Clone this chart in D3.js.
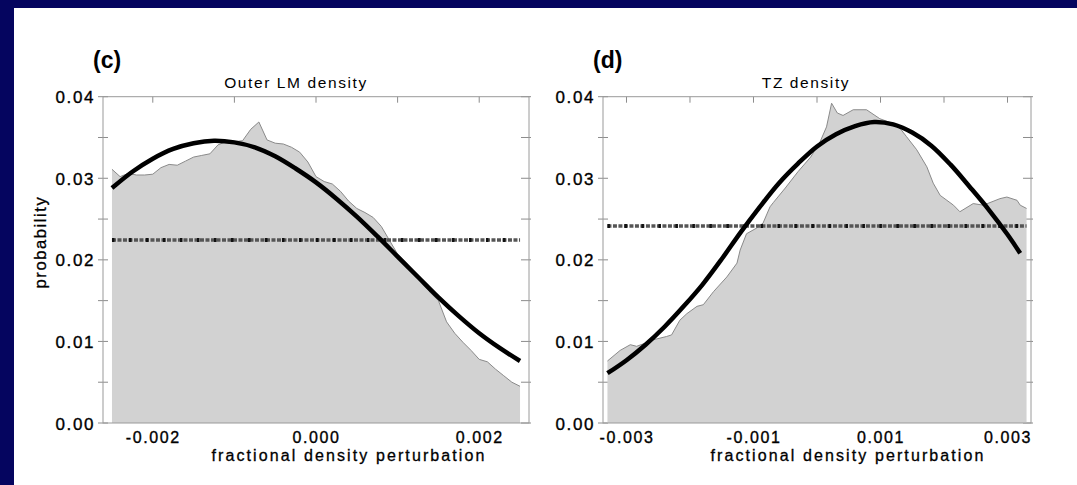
<!DOCTYPE html>
<html><head><meta charset="utf-8">
<script src="https://cdn.jsdelivr.net/npm/d3@7"></script>
<style>
html,body{margin:0;padding:0;background:#05055f;}
svg{display:block;}
text{font-family:"Liberation Sans",Arial,Helvetica,sans-serif;fill:#000;}
</style></head>
<body>
<svg id="chart" width="1077" height="485"></svg>
<script>
// ---------- data ----------
const panelLabels = ["(c)", "(d)"];
const panelTitles = ["Outer LM density", "TZ density"];
const xAxisTitle = "fractional density perturbation";
const yAxisTitle = "probability";

const yTicksLabeled = [0, 0.01, 0.02, 0.03, 0.04];
const yTicksMinor = [0.005, 0.015, 0.025, 0.035];

// panel (c)
const cXDomain = [-0.00261, 0.00261];
const cXTicksLabeled = [-0.002, 0.000, 0.002];
const cXTicksAll = [-0.002, -0.001, 0, 0.001, 0.002];
const cHistX = [-0.0025,-0.0024,-0.0023,-0.0022,-0.0021,-0.0020,-0.0019,-0.0018,-0.0017,-0.0016,-0.0015,-0.0014,-0.0013,-0.0012,-0.0011,-0.0010,-0.0009,-0.0008,-0.0007,-0.0006,-0.0005,-0.0004,-0.0003,-0.0002,-0.0001,0.0000,0.0001,0.0002,0.0003,0.0004,0.0005,0.0006,0.0007,0.0008,0.0009,0.0010,0.0011,0.0012,0.0013,0.0014,0.0015,0.0016,0.0017,0.0018,0.0019,0.0020,0.0021,0.0022,0.0023,0.0024,0.0025];
const cHistY = [0.0311,0.0302,0.0306,0.0304,0.0304,0.0305,0.0313,0.0317,0.0316,0.0321,0.0326,0.0328,0.0330,0.0341,0.0345,0.0345,0.0346,0.0360,0.0369,0.0347,0.0343,0.0342,0.0338,0.0332,0.0320,0.0302,0.0296,0.0293,0.0284,0.0272,0.0263,0.0258,0.0252,0.0241,0.0224,0.0207,0.0197,0.0186,0.0172,0.0160,0.0150,0.0124,0.0110,0.0099,0.0089,0.0078,0.0075,0.0066,0.0058,0.0050,0.0045];
const cFitX = [-0.0025,-0.00225,-0.002,-0.00175,-0.0015,-0.00125,-0.001,-0.00075,-0.0005,-0.00025,0,0.00025,0.0005,0.00075,0.001,0.00125,0.0015,0.00175,0.002,0.00225,0.0025];
const cFitY = [0.0288,0.0308,0.0324,0.0336,0.0343,0.0346,0.0344,0.0338,0.0327,0.0312,0.0295,0.0275,0.0253,0.0229,0.0204,0.0179,0.0154,0.0131,0.0110,0.0092,0.0076];
const cLevel = 0.02243;

// panel (d)
const dXDomain = [-0.00337, 0.00337];
const dXTicksLabeled = [-0.003, -0.001, 0.001, 0.003];
const dXTicksAll = [-0.003, -0.002, -0.001, 0, 0.001, 0.002, 0.003];
const dHistX = [-0.0033,-0.0031,-0.00294,-0.00284,-0.0027,-0.00258,-0.00237,-0.00229,-0.00216,-0.00205,-0.00189,-0.00179,-0.00163,-0.00142,-0.00126,-0.00121,-0.00111,-0.00095,-0.00085,-0.00074,-0.00069,-0.0005,-0.0003,-0.0001,0.00005,0.00015,0.00023,0.00032,0.00041,0.00057,0.00078,0.00099,0.0012,0.00131,0.00141,0.00157,0.00173,0.00183,0.00194,0.00215,0.00225,0.00246,0.00262,0.00288,0.00299,0.00315,0.0032,0.0033];
const dHistY = [0.0076,0.0089,0.0096,0.0094,0.0098,0.0102,0.0106,0.0108,0.0126,0.0134,0.0143,0.0145,0.0161,0.0179,0.0196,0.0212,0.0232,0.0239,0.0245,0.0265,0.0270,0.0288,0.0308,0.0326,0.0345,0.0363,0.0392,0.0380,0.0377,0.0384,0.0384,0.0373,0.0367,0.0361,0.0351,0.0335,0.0314,0.0294,0.0279,0.0267,0.0259,0.0269,0.0267,0.0275,0.0277,0.0273,0.0267,0.0263];
const dFitX = [-0.0033,-0.003,-0.0027,-0.0024,-0.0021,-0.0018,-0.0015,-0.0012,-0.0009,-0.0006,-0.0003,0,0.0003,0.0006,0.0009,0.0012,0.0015,0.0018,0.0021,0.0024,0.0027,0.003,0.0032];
const dFitY = [0.0061,0.0077,0.0096,0.0118,0.0143,0.0170,0.0201,0.0234,0.0265,0.0294,0.0318,0.0339,0.0354,0.0364,0.0369,0.0366,0.0356,0.0340,0.0317,0.0290,0.0262,0.0231,0.0208];
const dLevel = 0.02414;

// ---------- layout ----------
const W = 1077, H = 485;
const svg = d3.select("#chart");
svg.append("rect").attr("x",0).attr("y",0).attr("width",W).attr("height",H).attr("fill","#05055f");
svg.append("rect").attr("x",14).attr("y",8).attr("width",W-14).attr("height",H-8).attr("fill","#ffffff");

const yTop = 96.7, yBot = 423;
const y = d3.scaleLinear().domain([0, 0.04]).range([yBot, yTop]);

const panels = [
  {label: panelLabels[0], title: panelTitles[0], x0: 103, x1: 529, dom: cXDomain,
   ticksLab: cXTicksLabeled, ticksAll: cXTicksAll, hx: cHistX, hy: cHistY, fx: cFitX, fy: cFitY, level: cLevel,
   titleDx: -20, xTitleDx: 33, fmt: d3.format(".3f")},
  {label: panelLabels[1], title: panelTitles[1], x0: 603, x1: 1031, dom: dXDomain,
   ticksLab: dXTicksLabeled, ticksAll: dXTicksAll, hx: dHistX, hy: dHistY, fx: dFitX, fy: dFitY, level: dLevel,
   titleDx: -11, xTitleDx: 31, fmt: d3.format(".3f")}
];

const LS = "1.6px";
const FONT = '"Liberation Sans",Arial,sans-serif';
panels.forEach((p, i) => {
  const x = d3.scaleLinear().domain(p.dom).range([p.x0, p.x1]);
  const g = svg.append("g");
  const hist = p.hx.map((v, k) => [v, p.hy[k]]);
  const fit = p.fx.map((v, k) => [v, p.fy[k]]);

  // tick marks (frame)
  const tickCol = "#8c8c8c";
  const allY = yTicksLabeled.concat(yTicksMinor);
  allY.forEach(t => {
    g.append("line").attr("x1", p.x0 - 5).attr("x2", p.x0 + 5).attr("y1", y(t)).attr("y2", y(t))
      .attr("stroke", tickCol).attr("stroke-width", 1);
    g.append("line").attr("x1", p.x1 - 8).attr("x2", p.x1 + 2).attr("y1", y(t)).attr("y2", y(t))
      .attr("stroke", tickCol).attr("stroke-width", 1);
  });
  p.ticksAll.forEach(t => {
    g.append("line").attr("x1", x(t)).attr("x2", x(t)).attr("y1", yTop).attr("y2", yTop + 6)
      .attr("stroke", tickCol).attr("stroke-width", 1);
    g.append("line").attr("x1", x(t)).attr("x2", x(t)).attr("y1", yBot).attr("y2", yBot - 6)
      .attr("stroke", tickCol).attr("stroke-width", 1);
  });

  // histogram fill
  g.append("path").datum(hist)
    .attr("d", d3.area().x(d => x(d[0])).y0(y(0)).y1(d => y(d[1])))
    .attr("fill", "#d2d2d2");
  g.append("path").datum(hist)
    .attr("d", d3.line().x(d => x(d[0])).y(d => y(d[1])))
    .attr("fill", "none").attr("stroke", "#8a8a8a").attr("stroke-width", 1);

  // frame
  g.append("rect").attr("x", p.x0).attr("y", yTop).attr("width", p.x1 - p.x0).attr("height", yBot - yTop)
    .attr("fill", "none").attr("stroke", "#9a9a9a").attr("stroke-width", 1);

  // horizontal reference level
  const hx0 = x(p.hx[0]), hx1 = x(p.hx[p.hx.length - 1]);
  g.append("line").attr("x1", hx0).attr("x2", hx1).attr("y1", y(p.level)).attr("y2", y(p.level))
    .attr("stroke", "#555").attr("stroke-width", 3.5).attr("stroke-dasharray", "4,1.5");
  g.append("line").attr("x1", hx0).attr("x2", hx1).attr("y1", y(p.level)).attr("y2", y(p.level))
    .attr("stroke", "#111").attr("stroke-width", 4).attr("stroke-dasharray", "2.5,14.5");

  // fit curve
  g.append("path").datum(fit)
    .attr("d", d3.line().x(d => x(d[0])).y(d => y(d[1])).curve(d3.curveCatmullRom))
    .attr("fill", "none").attr("stroke", "#000").attr("stroke-width", 4.5).attr("stroke-linecap", "butt");

  // y tick labels
  const yAx = d3.axisLeft(y).tickValues(yTicksLabeled).tickSize(0).tickPadding(0).tickFormat(d3.format(".2f"));
  const ya = g.append("g").attr("transform", `translate(${p.x0 - 8},0)`).call(yAx);
  ya.select(".domain").remove();
  ya.selectAll("text").attr("font-size", 17).attr("letter-spacing", LS).attr("dy", "0.36em")
    .style("font-family", FONT).attr("fill", "#000").attr("stroke", "#000").attr("stroke-width", 0.35);

  // x tick labels
  const xAx = d3.axisBottom(x).tickValues(p.ticksLab).tickSize(0).tickPadding(0).tickFormat(p.fmt);
  const xa = g.append("g").attr("transform", `translate(0,${yBot})`).call(xAx);
  xa.select(".domain").remove();
  xa.selectAll("text").attr("font-size", 16).attr("letter-spacing", LS).attr("y", 20).attr("dy", null)
    .style("font-family", FONT).attr("fill", "#000").attr("stroke", "#000").attr("stroke-width", 0.35)
    .text(d => (d < 0 ? "-" : "") + p.fmt(Math.abs(d)));

  // titles
  const cx = (p.x0 + p.x1) / 2;
  g.append("text").attr("x", p.x0 - 10).attr("y", 68).attr("font-size", 23).attr("font-weight", "bold")
    .text(p.label);
  g.append("text").attr("x", cx + p.titleDx).attr("y", 88).attr("text-anchor", "middle")
    .attr("font-size", 15.5).attr("letter-spacing", "1.6px").text(p.title);
  g.append("text").attr("x", cx + p.xTitleDx).attr("y", 461).attr("text-anchor", "middle")
    .attr("font-size", 16).attr("letter-spacing", "2.1px")
    .attr("stroke", "#000").attr("stroke-width", 0.3).text(xAxisTitle);
  if (i === 0) {
    g.append("text").attr("transform", `translate(46,242) rotate(-90)`).attr("text-anchor", "middle")
      .attr("font-size", 16.5).attr("letter-spacing", LS).attr("stroke", "#000").attr("stroke-width", 0.3)
      .text(yAxisTitle);
  }
});
</script>
</body></html>
